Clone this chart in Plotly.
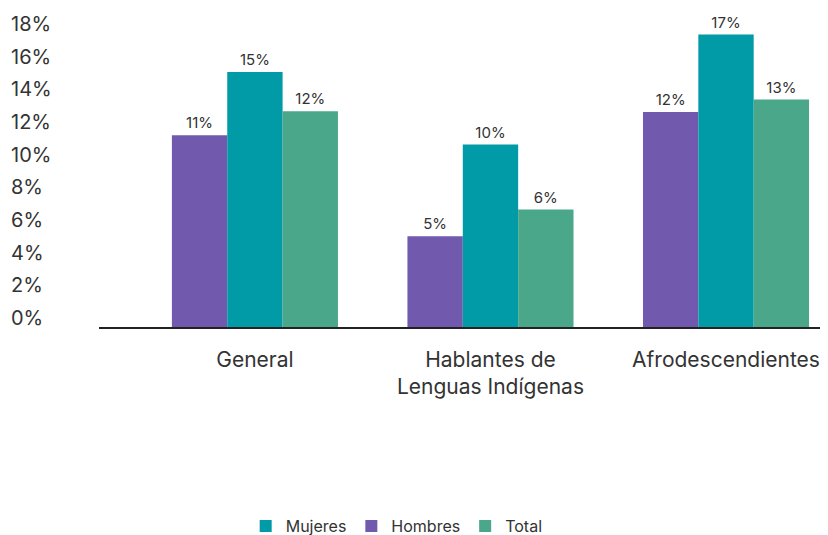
import plotly.graph_objects as go

categories = ["General", "Hablantes de<br>Lenguas Indígenas", "Afrodescendientes"]
hombres = [11.5, 5.45, 12.9]
mujeres = [15.3, 10.95, 17.55]
total = [12.95, 7.05, 13.65]
hombres_text = ["11%", "5%", "12%"]
mujeres_text = ["15%", "10%", "17%"]
total_text = ["12%", "6%", "13%"]
y_ticks = [0, 2, 4, 6, 8, 10, 12, 14, 16, 18]
y_ticklabels = [f"{v}%" for v in y_ticks]

FONT = "Inter"
TXT = "#333333"

fig = go.Figure()
series = [
    ("Hombres", hombres, hombres_text, "#7159AD", 2),
    ("Mujeres", mujeres, mujeres_text, "#009BA6", 1),
    ("Total", total, total_text, "#4BA78A", 3),
]
for name, vals, txt, color, rank in series:
    fig.add_trace(go.Bar(
        name=name, x=categories, y=vals, text=txt,
        textposition="outside", cliponaxis=False,
        textfont=dict(family=FONT, size=15, color=TXT),
        marker=dict(color=color, line=dict(width=0)),
        legendrank=rank,
    ))

# empty trace that carries the left-aligned percentage scale
fig.add_trace(go.Scatter(x=[], y=[], xaxis="x2", yaxis="y2", showlegend=False,
                         hoverinfo="skip"))

# page body adds an 8px offset, so the figure is 820x527
PA_H = 347.0  # paper-area height in px
fig.update_layout(
    width=820, height=527,
    margin=dict(l=0, r=0, t=0, b=527 - int(PA_H), autoexpand=False),
    paper_bgcolor="white", plot_bgcolor="white",
    barmode="group", bargap=0.295, bargroupgap=0,
    font=dict(family=FONT, color=TXT),
    showlegend=True,
    legend=dict(orientation="h", x=0.474, xanchor="center",
                y=(PA_H - 518) / PA_H, yanchor="middle",
                font=dict(family=FONT, size=16, color=TXT), traceorder="normal",
                itemwidth=30),
)
fig.update_layout(
    xaxis=dict(
        domain=[91 / 820, 1],
        range=[-0.662, 2.433], showline=True, linecolor="#222222", linewidth=1.5,
        showgrid=False, ticks="", tickfont=dict(family=FONT, size=21, color=TXT),
        ticklabelstandoff=13, automargin=False, fixedrange=True,
    ),
    yaxis=dict(
        domain=[(PA_H - 319) / PA_H, (PA_H - 19) / PA_H],
        range=[0, 18], showticklabels=False,
        showgrid=False, zeroline=False, showline=False, ticks="",
        automargin=False, fixedrange=True,
    ),
    xaxis2=dict(domain=[0, 0.1], anchor="y2", visible=False, range=[0, 1],
                fixedrange=True),
    yaxis2=dict(
        domain=[0, 1], anchor="x2", side="left",
        range=[(310 - PA_H) / 16.33, 310 / 16.33],
        tickvals=y_ticks, ticktext=y_ticklabels,
        showgrid=False, zeroline=False, showline=False, ticks="",
        ticklabelposition="inside", ticklabelstandoff=0,
        tickfont=dict(family=FONT, size=20, color=TXT),
        automargin=False, fixedrange=True,
    ),
)
fig.write_html("out.html")
